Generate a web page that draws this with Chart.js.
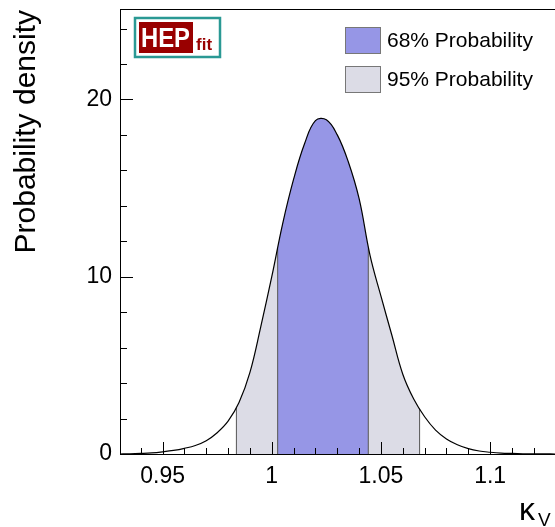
<!DOCTYPE html>
<html>
<head>
<meta charset="utf-8">
<script src="https://cdn.jsdelivr.net/npm/chart.js@4.4.1/dist/chart.umd.min.js"></script>
<style>
    html, body { margin: 0; padding: 0; background: #fff; overflow: hidden; }
    #wrap { width: 555px; height: 527px; position: relative; }
</style>
</head>
<body>
<div id="wrap"><canvas id="chart"></canvas></div>
<script>
// Posterior of kappa_V
const kappa = [
    0.930, 0.935, 0.940, 0.945, 0.950, 0.955, 0.960, 0.965, 0.970, 0.975,
    0.980, 0.985, 0.990, 0.995, 1.000, 1.005, 1.010, 1.015, 1.020, 1.025,
    1.030, 1.035, 1.040, 1.045, 1.050, 1.055, 1.060, 1.065, 1.070, 1.075,
    1.080, 1.085, 1.090, 1.095, 1.100, 1.105, 1.110, 1.115, 1.120, 1.125, 1.130
];
const density = [
    0.0, 0.01, 0.03, 0.06, 0.12, 0.2, 0.32, 0.48, 0.75, 1.2,
    1.85, 2.9, 4.6, 7.2, 10.0, 13.0, 15.5, 17.5, 18.8, 18.85,
    18.0, 16.5, 14.4, 11.2, 8.9, 6.7, 4.5, 3.1, 2.1, 1.35,
    0.85, 0.52, 0.3, 0.17, 0.1, 0.05, 0.03, 0.015, 0.008, 0.004, 0.0
];

// interval edges and the density at those edges
const band68 = [1.0027, 1.0442];
const band68Edge = [11.6, 11.6];
const band95 = [0.9838, 1.0677];
const band95Edge = [2.6, 2.55];

// axes
const xRange = [0.9305, 1.1297];
const yRange = [0, 25.1];
const xTicks = [0.95, 1, 1.05, 1.1];
const xTickLabels = ['0.95', '1', '1.05', '1.1'];
const yTicks = [0, 10, 20];
const yTickLabels = ['0', '10', '20'];

const legendLabels = ['68% Probability', '95% Probability'];

const colors = {
    band68: '#9696e6',
    band95: '#dcdce6',
    edge: '#555555',
    logoRed: '#990000',
    logoTeal: '#2a9994'
};
const FONT = '"Liberation Sans", Arial, Helvetica, sans-serif';
const TENSION = 0.4;

const curve = kappa.map((k, i) => ({ x: k, y: density[i] }));

function bandPoints(range, edge) {
    const inside = curve.filter(p => p.x > range[0] && p.x < range[1]);
    return [{ x: range[0], y: edge[0] }, ...inside, { x: range[1], y: edge[1] }];
}
function edgeLine(x, y) {
    return [{ x: x, y: 0 }, { x: x, y: y }];
}

const frame = {
    id: 'frame',
    afterDatasetsDraw(chart) {
        const ctx = chart.ctx;
        const { left, right, top, bottom } = chart.chartArea;
        const xs = chart.scales.x, ys = chart.scales.y;
        ctx.save();
        ctx.strokeStyle = '#000';
        ctx.lineWidth = 1;
        ctx.beginPath();
        // top frame line
        ctx.moveTo(left, top + 0.5);
        ctx.lineTo(right, top + 0.5);
        // x ticks (inward)
        for (let v = 0.94; v <= xRange[1]; v += 0.01) {
            const r = Math.round(v * 100) / 100;
            const major = xTicks.some(t => Math.abs(t - r) < 1e-6);
            const px = Math.round(xs.getPixelForValue(r)) + 0.5;
            const len = major ? 12 : 6;
            ctx.moveTo(px, bottom);
            ctx.lineTo(px, bottom - len);
        }
        // y ticks (inward)
        for (let v = 2; v <= yRange[1]; v += 2) {
            const major = yTicks.includes(v);
            const py = Math.round(ys.getPixelForValue(v)) + 0.5;
            const len = major ? 13 : 7;
            ctx.moveTo(left, py);
            ctx.lineTo(left + len, py);
        }
        ctx.stroke();
        ctx.restore();
    },
    afterDraw(chart) {
        const ctx = chart.ctx;
        ctx.save();

        // y title
        ctx.fillStyle = '#000';
        ctx.font = '30px ' + FONT;
        ctx.translate(27, 10);
        ctx.rotate(-Math.PI / 2);
        ctx.textAlign = 'right';
        ctx.textBaseline = 'middle';
        ctx.fillText('Probability density', 0, 0);
        ctx.setTransform(1, 0, 0, 1, 0, 0);

        // x title: kappa_V
        ctx.textAlign = 'left';
        ctx.textBaseline = 'alphabetic';
        ctx.font = '32px ' + FONT;
        ctx.fillText('\u03ba', 519, 520);
        ctx.font = '19px ' + FONT;
        ctx.fillText('V', 538, 526);

        // legend
        const boxes = [colors.band68, colors.band95];
        legendLabels.forEach((label, i) => {
            const y = 27 + i * 39;
            ctx.fillStyle = boxes[i];
            ctx.fillRect(345, y, 36, 27);
            ctx.strokeStyle = '#777';
            ctx.lineWidth = 1;
            ctx.strokeRect(345.5, y + 0.5, 35, 26);
            ctx.fillStyle = '#000';
            ctx.font = '21px ' + FONT;
            ctx.textBaseline = 'middle';
            ctx.fillText(label, 387, y + 14);
        });

        // HEPfit logo
        ctx.strokeStyle = colors.logoTeal;
        ctx.lineWidth = 2.5;
        ctx.strokeRect(135, 18, 85, 39);
        ctx.fillStyle = colors.logoRed;
        ctx.fillRect(139, 22, 54, 31);
        ctx.fillStyle = '#fff';
        ctx.textBaseline = 'alphabetic';
        ctx.font = 'bold 27px ' + FONT;
        ctx.fillText('HEP', 141, 47, 49);
        ctx.fillStyle = colors.logoRed;
        ctx.font = 'bold 17px ' + FONT;
        ctx.fillText('fit', 196, 50, 22);

        ctx.restore();
    }
};

new Chart(document.getElementById('chart'), {
    type: 'line',
    data: {
        datasets: [
            {
                data: curve,
                borderColor: '#000',
                borderWidth: 1.2,
                pointRadius: 0,
                fill: false,
                tension: TENSION,
                order: 0
            },
            {
                data: edgeLine(band68[0], band68Edge[0]),
                borderColor: colors.edge, borderWidth: 1, pointRadius: 0, fill: false, order: 1
            },
            {
                data: edgeLine(band68[1], band68Edge[1]),
                borderColor: colors.edge, borderWidth: 1, pointRadius: 0, fill: false, order: 1
            },
            {
                data: edgeLine(band95[0], band95Edge[0]),
                borderColor: colors.edge, borderWidth: 1, pointRadius: 0, fill: false, order: 2
            },
            {
                data: edgeLine(band95[1], band95Edge[1]),
                borderColor: colors.edge, borderWidth: 1, pointRadius: 0, fill: false, order: 2
            },
            {
                data: bandPoints(band68, band68Edge),
                backgroundColor: colors.band68,
                borderWidth: 0,
                pointRadius: 0,
                fill: 'origin',
                tension: TENSION,
                order: 3
            },
            {
                data: bandPoints(band95, band95Edge),
                backgroundColor: colors.band95,
                borderWidth: 0,
                pointRadius: 0,
                fill: 'origin',
                tension: TENSION,
                order: 4
            }
        ]
    },
    options: {
        responsive: true,
        maintainAspectRatio: false,
        animation: false,
        events: [],
        layout: { padding: { top: 9, left: 0, right: 0, bottom: 0 } },
        plugins: {
            legend: { display: false },
            tooltip: { enabled: false }
        },
        scales: {
            x: {
                type: 'linear',
                min: xRange[0],
                max: xRange[1],
                afterBuildTicks: (scale) => { scale.ticks = xTicks.map(v => ({ value: v })); },
                afterFit: (scale) => {
                    scale.height = 73;
                    scale.paddingLeft = 0;
                    scale.paddingRight = 0;
                },
                ticks: {
                    autoSkip: false,
                    maxRotation: 0,
                    padding: 9,
                    color: '#000',
                    font: { family: FONT, size: 23 },
                    callback: (v, i) => xTickLabels[i]
                },
                grid: { display: false, drawTicks: false },
                border: { display: true, color: '#000', width: 1 }
            },
            y: {
                min: yRange[0],
                max: yRange[1],
                afterBuildTicks: (scale) => { scale.ticks = yTicks.map(v => ({ value: v })); },
                afterFit: (scale) => {
                    scale.width = 120;
                    scale.paddingTop = 0;
                    scale.paddingBottom = 0;
                },
                ticks: {
                    padding: 8,
                    color: '#000',
                    font: { family: FONT, size: 23 },
                    callback: (v, i) => yTickLabels[i]
                },
                grid: { display: false, drawTicks: false },
                border: { display: true, color: '#000', width: 1 }
            }
        }
    },
    plugins: [frame]
});
</script>
</body>
</html>
